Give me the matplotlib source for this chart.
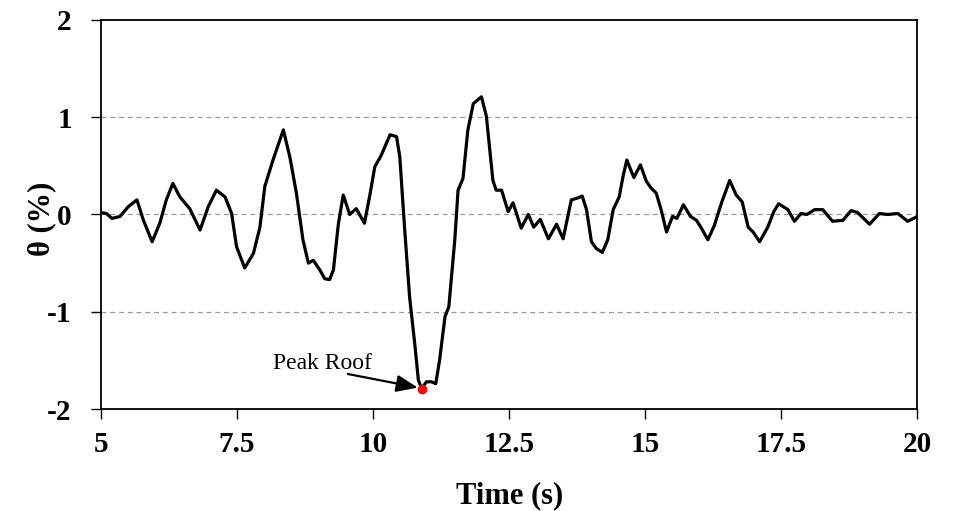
import matplotlib
matplotlib.use('Agg')
import matplotlib.pyplot as plt

# roof drift ratio time history
time_s = [5.0, 5.1, 5.2, 5.35, 5.5, 5.66, 5.78, 5.94, 6.08, 6.2, 6.32, 6.45, 6.63,
          6.82, 6.97, 7.12, 7.28, 7.4, 7.49, 7.64, 7.8, 7.92, 8.01, 8.16, 8.35,
          8.47, 8.59, 8.71, 8.81, 8.9, 9.02, 9.11, 9.2, 9.27, 9.36, 9.45, 9.57,
          9.69, 9.84, 9.94, 10.03, 10.15, 10.31, 10.43, 10.49, 10.58, 10.67,
          10.77, 10.83, 10.89, 10.98, 11.07, 11.15, 11.22, 11.32, 11.39, 11.5,
          11.56, 11.65, 11.74, 11.84, 11.99, 12.08, 12.2, 12.26, 12.36, 12.48,
          12.57, 12.72, 12.85, 12.95, 13.07, 13.22, 13.37, 13.49, 13.64, 13.76,
          13.84, 13.92, 14.01, 14.1, 14.21, 14.31, 14.41, 14.52, 14.59, 14.66,
          14.79, 14.91, 15.02, 15.11, 15.2, 15.29, 15.39, 15.5, 15.58, 15.7,
          15.83, 15.94, 16.03, 16.15, 16.27, 16.4, 16.55, 16.67, 16.78, 16.89,
          16.98, 17.1, 17.25, 17.36, 17.45, 17.62, 17.74, 17.86, 17.97, 18.11,
          18.26, 18.44, 18.63, 18.78, 18.9, 19.12, 19.3, 19.45, 19.64, 19.82, 20.0]
theta = [0.02, 0.01, -0.04, -0.02, 0.08, 0.15, -0.06, -0.28, -0.09, 0.15, 0.32, 0.18, 0.06,
         -0.16, 0.08, 0.25, 0.18, 0.01, -0.33, -0.55, -0.40, -0.13, 0.29, 0.56, 0.87,
         0.59, 0.22, -0.26, -0.50, -0.47, -0.57, -0.66, -0.67, -0.57, -0.10, 0.20, 0.0,
         0.06, -0.09, 0.20, 0.49, 0.61, 0.82, 0.80, 0.59, -0.16, -0.85,
         -1.36, -1.70, -1.79, -1.72, -1.72, -1.74, -1.50, -1.05, -0.95, -0.26,
         0.25, 0.37, 0.87, 1.14, 1.21, 1.01, 0.35, 0.25, 0.25, 0.03,
         0.12, -0.14, 0.0, -0.13, -0.05, -0.25, -0.10, -0.25, 0.15, 0.17,
         0.19, 0.05, -0.28, -0.35, -0.39, -0.26, 0.05, 0.18, 0.39, 0.56,
         0.38, 0.51, 0.34, 0.27, 0.22, 0.05, -0.18, -0.02, -0.04, 0.10,
         -0.02, -0.06, -0.14, -0.26, -0.11, 0.12, 0.35, 0.20, 0.13, -0.13,
         -0.18, -0.28, -0.13, 0.03, 0.11, 0.05, -0.07, 0.01, 0.0, 0.05,
         0.05, -0.07, -0.06, 0.04, 0.02, -0.10, 0.01, 0.0, 0.01, -0.07, -0.02]

peak_t = 10.89
peak_theta = -1.79
peak_label = 'Peak Roof'
label_at = (9.97, -1.59)
arrow_tail = (9.535, -1.64)
arrow_head = (10.82, -1.78)

x_ticks = [5, 7.5, 10, 12.5, 15, 17.5, 20]
x_labels = ['5', '7.5', '10', '12.5', '15', '17.5', '20']
y_ticks = [-2, -1, 0, 1, 2]
y_labels = ['-2', '-1', '0', '1', '2']
grid_levels = [-1, 0, 1]

plt.rcParams['font.family'] = ['Liberation Serif', 'DejaVu Serif']

figure = plt.figure(figsize=(9.6, 5.11), dpi=100)
axes = figure.add_axes([0.1052, 0.1996, 0.8505, 0.7613])

for level in grid_levels:
    axes.axhline(level, color='#999999', linewidth=0.9, linestyle=(0, (4, 3)), zorder=1)

axes.plot(time_s, theta, color='black', linewidth=2.3,
          solid_joinstyle='round', solid_capstyle='round', zorder=3)
axes.plot([peak_t], [peak_theta], 'o', color='red', markersize=6, zorder=4)

axes.text(label_at[0], label_at[1], peak_label, fontsize=17, ha='right', va='baseline')
axes.annotate('', xy=arrow_head, xytext=arrow_tail,
              arrowprops=dict(arrowstyle='-|>,head_length=0.65,head_width=0.26',
                              color='black', lw=1.6, mutation_scale=20,
                              shrinkA=0, shrinkB=0))

axes.set_xlim(5, 20)
axes.set_ylim(-2, 2)
axes.set_xticks(x_ticks)
axes.set_xticklabels(x_labels)
axes.set_yticks(y_ticks)
axes.set_yticklabels(y_labels)
axes.tick_params(direction='out', length=7, width=1.0, labelsize=21)
axes.tick_params(axis='x', pad=9)
axes.tick_params(axis='y', pad=14)
for label in axes.get_xticklabels() + axes.get_yticklabels():
    label.set_fontweight('bold')
for spine in axes.spines.values():
    spine.set_linewidth(1.3)

axes.set_xlabel('Time (s)', fontsize=22, fontweight='bold')
axes.xaxis.set_label_coords(0.5, -0.185)
axes.set_ylabel('θ (%)', fontsize=22, fontweight='bold', va='center')
axes.yaxis.set_label_coords(-0.073, 0.49)

figure.savefig('out.png', format='png', dpi=100)
